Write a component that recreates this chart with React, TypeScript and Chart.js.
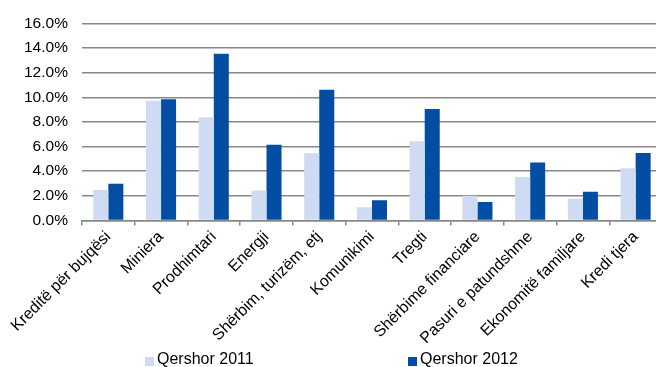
import React, { useEffect, useRef } from "react";
import { Chart, registerables } from "chart.js";

Chart.register(...registerables);

const categories = [
  "Kreditë për bujqësi",
  "Miniera",
  "Prodhimtari",
  "Energji",
  "Shërbim, turizëm, etj",
  "Komunikimi",
  "Tregti",
  "Shërbime financiare",
  "Pasuri e patundshme",
  "Ekonomitë familjare",
  "Kredi tjera",
];
const series2011 = [2.47, 9.72, 8.38, 2.44, 5.45, 1.07, 6.44, 2.01, 3.52, 1.77, 4.24];
const series2012 = [2.98, 9.83, 13.53, 6.15, 10.6, 1.64, 9.05, 1.5, 4.7, 2.34, 5.48];
const seriesNames = ["Qershor 2011", "Qershor 2012"];
const seriesColors = ["#cfdbf2", "#034ea2"];

const FONT = "'Liberation Sans', Arial, sans-serif";

export default function App() {
  const ref = useRef<HTMLCanvasElement | null>(null);
  useEffect(() => {
    if (!ref.current) return;
    const chart = new Chart(ref.current, {
      type: "bar",
      data: {
        labels: categories,
        datasets: [
          {
            label: seriesNames[0],
            data: series2011,
            backgroundColor: seriesColors[0],
            barPercentage: 1,
            categoryPercentage: 0.57,
          },
          {
            label: seriesNames[1],
            data: series2012,
            backgroundColor: seriesColors[1],
            barPercentage: 1,
            categoryPercentage: 0.57,
          },
        ],
      },
      options: {
        responsive: false,
        animation: false,
        layout: { padding: { left: 10, right: 2, top: 10, bottom: 17 } },
        plugins: { legend: { display: false }, tooltip: { enabled: false } },
        scales: {
          x: {
            grid: {
              drawOnChartArea: false,
              drawTicks: true,
              tickLength: 5,
              color: "#878787",
              lineWidth: 1.5,
            },
            border: { display: true, color: "#878787", width: 1.5 },
            ticks: {
              minRotation: 45,
              maxRotation: 45,
              autoSkip: false,
              color: "#000",
              padding: 2,
              font: { family: FONT, size: 16 },
            },
          },
          y: {
            min: 0,
            max: 16,
            grid: { color: "#878787", lineWidth: 1.5, drawTicks: false },
            border: { display: false },
            ticks: {
              stepSize: 2,
              padding: 14,
              color: "#000",
              font: { family: FONT, size: 15.5 },
              callback: (v: any) => Number(v).toFixed(1) + "%",
            },
          },
        },
      },
    });
    return () => chart.destroy();
  }, []);

  const legendItem = (i: number, left: number) => (
    <div
      key={i}
      style={{
        position: "absolute",
        left,
        top: 350,
        display: "flex",
        alignItems: "center",
        fontFamily: FONT,
        fontSize: 16,
        color: "#000",
        lineHeight: "18px",
        whiteSpace: "nowrap",
      }}
    >
      <span
        style={{
          display: "inline-block",
          width: 9,
          height: 9,
          background: seriesColors[i],
          marginRight: 3,
          marginTop: 4,
        }}
      />
      <span>{seriesNames[i]}</span>
    </div>
  );

  return (
    <div
      style={{
        position: "fixed",
        left: 0,
        top: 0,
        width: 656,
        height: 367,
        overflow: "hidden",
        background: "#fff",
      }}
    >
      <canvas ref={ref} width={664} height={367} style={{ display: "block" }} />
      {legendItem(0, 145)}
      {legendItem(1, 408)}
    </div>
  );
}
